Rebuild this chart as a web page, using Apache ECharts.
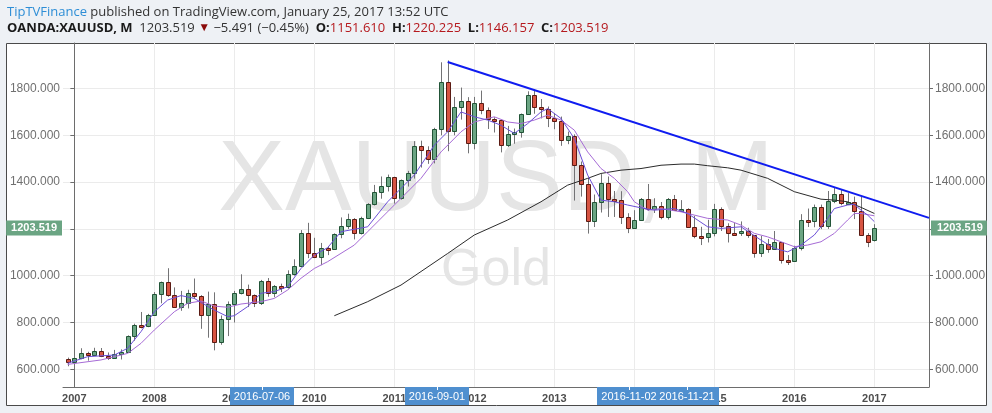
<!DOCTYPE html>
<html><head><meta charset="utf-8">
<script src="https://cdn.jsdelivr.net/npm/echarts@6/dist/echarts.min.js"></script>
<style>html,body{margin:0;padding:0;background:#eef1f5;}#c{width:992px;height:413px;}</style>
</head><body><div id="c"></div>
<script>
// ---------- DATA ----------
const months = [
 '2006-12',
 '2007-01','2007-02','2007-03','2007-04','2007-05','2007-06','2007-07','2007-08','2007-09','2007-10','2007-11','2007-12',
 '2008-01','2008-02','2008-03','2008-04','2008-05','2008-06','2008-07','2008-08','2008-09','2008-10','2008-11','2008-12',
 '2009-01','2009-02','2009-03','2009-04','2009-05','2009-06','2009-07','2009-08','2009-09','2009-10','2009-11','2009-12',
 '2010-01','2010-02','2010-03','2010-04','2010-05','2010-06','2010-07','2010-08','2010-09','2010-10','2010-11','2010-12',
 '2011-01','2011-02','2011-03','2011-04','2011-05','2011-06','2011-07','2011-08','2011-09','2011-10','2011-11','2011-12',
 '2012-01','2012-02','2012-03','2012-04','2012-05','2012-06','2012-07','2012-08','2012-09','2012-10','2012-11','2012-12',
 '2013-01','2013-02','2013-03','2013-04','2013-05','2013-06','2013-07','2013-08','2013-09','2013-10','2013-11','2013-12',
 '2014-01','2014-02','2014-03','2014-04','2014-05','2014-06','2014-07','2014-08','2014-09','2014-10','2014-11','2014-12',
 '2015-01','2015-02','2015-03','2015-04','2015-05','2015-06','2015-07','2015-08','2015-09','2015-10','2015-11','2015-12',
 '2016-01','2016-02','2016-03','2016-04','2016-05','2016-06','2016-07','2016-08','2016-09','2016-10','2016-11','2016-12',
 '2017-01'
];
const openP = [
 646,
 632,650,669,662,680,659,650,666,673,743,789,783,
 834,923,972,916,865,885,928,913,833,880,718,816,
 880,928,942,916,883,979,927,955,953,1008,1040,1181,
 1096,1081,1118,1113,1179,1212,1244,1181,1248,1308,1357,1385,
 1421,1332,1410,1439,1556,1536,1500,1628,1826,1620,1722,1746,
 1565,1737,1710,1669,1664,1560,1604,1614,1691,1772,1719,1713,
 1675,1663,1579,1596,1472,1393,1234,1313,1396,1327,1323,1250,
 1202,1240,1326,1284,1296,1250,1327,1282,1287,1210,1171,1167,
 1184,1283,1212,1183,1182,1190,1172,1095,1134,1115,1142,1065,
 1061,1118,1238,1233,1293,1214,1321,1351,1309,1316,1275,1173,
 1151.610
];
const highP = [
 650,
 660,690,675,692,691,672,683,685,745,795,845,837,
 930,975,1032,950,935,940,988,917,932,929,830,890,
 935,1006,962,920,982,990,960,966,1023,1070,1195,1226,
 1162,1140,1127,1181,1249,1265,1246,1252,1310,1388,1424,1432,
 1423,1411,1448,1575,1577,1553,1632,1912,1920,1764,1804,1763,
 1764,1791,1719,1677,1666,1640,1629,1693,1788,1796,1755,1723,
 1695,1680,1616,1604,1488,1418,1347,1434,1424,1362,1361,1267,
 1280,1332,1392,1331,1315,1332,1345,1323,1288,1256,1209,1239,
 1307,1292,1224,1225,1232,1205,1174,1170,1157,1191,1143,1088,
 1128,1263,1287,1304,1304,1362,1375,1366,1353,1338,1337,1182,
 1220.225
];
const lowP = [
 613,
 603,643,637,661,652,640,646,642,670,722,775,780,
 830,882,910,864,850,860,900,773,735,681,705,742,
 800,920,866,866,875,910,908,930,945,1000,1040,1075,
 1075,1045,1088,1113,1160,1200,1155,1176,1242,1300,1329,1360,
 1308,1325,1381,1415,1462,1478,1480,1600,1532,1600,1667,1523,
 1540,1690,1627,1612,1527,1550,1564,1590,1690,1692,1672,1635,
 1626,1555,1562,1321,1338,1180,1208,1270,1251,1251,1221,1182,
 1200,1238,1277,1268,1241,1240,1281,1273,1206,1160,1131,1142,
 1168,1191,1142,1170,1170,1162,1077,1080,1098,1112,1052,1046,
 1061,1108,1208,1207,1199,1200,1310,1301,1304,1242,1171,1122,
 1146.157
];
const closeP = [
 632,
 650,669,662,680,659,650,666,673,743,789,783,834,
 923,972,916,865,885,928,913,833,880,718,816,880,
 928,942,916,883,979,927,954,953,1008,1040,1181,1096,
 1081,1118,1113,1179,1212,1244,1181,1248,1308,1357,1385,1421,
 1332,1410,1439,1556,1536,1500,1628,1826,1620,1722,1746,1565,
 1737,1710,1669,1664,1560,1604,1614,1691,1772,1719,1713,1675,
 1663,1579,1596,1472,1393,1234,1313,1396,1327,1323,1250,1202,
 1240,1326,1284,1296,1250,1327,1282,1287,1210,1171,1167,1184,
 1283,1212,1183,1182,1190,1172,1095,1134,1115,1142,1065,1061,
 1118,1238,1233,1293,1214,1321,1351,1309,1316,1275,1173,1146,
 1203.519
];
// moving averages: [monthIndex (0 = Jan 2007), value]
const maFast = [[-1,626],[2,654],[6,661],[8,690],[10,761],[12,846],[14,896],[16,915],[18,903],[19,886],[21,853],[23,825],[24,829],[26,868],[28,925],[30,932],[32,953],[34,1031],[36,1088],[38,1120],[40,1188],[44,1209],[47,1316],[51,1430],[54,1558],[56,1615],[58,1700],[60,1679],[62,1665],[64,1643],[66,1608],[68,1650],[70,1700],[71,1714],[73,1672],[75,1586],[77,1430],[79,1323],[81,1316],[83,1302],[85,1290],[87,1280],[90,1287],[92,1266],[95,1209],[97,1202],[100,1209],[103,1152],[105,1117],[107,1102],[109,1131],[111,1174],[113,1245],[114,1287],[116,1302],[117,1305],[118,1280],[119,1259],[120,1231]];
const maSlow = [[-1,621],[4,640],[8,668],[10,711],[12,768],[15,846],[17,882],[19,892],[21,870],[23,865],[25,879],[28,889],[30,903],[32,939],[34,989],[36,1031],[38,1060],[42,1131],[44,1188],[48,1302],[52,1416],[55,1529],[58,1615],[60,1657],[63,1679],[65,1657],[67,1650],[69,1665],[71,1686],[73,1665],[75,1622],[77,1529],[79,1458],[81,1416],[83,1359],[84,1316],[86,1280],[88,1287],[91,1273],[93,1259],[95,1245],[98,1238],[100,1216],[102,1181],[104,1166],[106,1145],[108,1124],[110,1131],[112,1145],[114,1181],[116,1238],[117,1266],[118,1266],[120,1256]];
const maLong = [[39,829],[44,889],[49,960],[56,1095],[60,1174],[65,1238],[70,1316],[74,1387],[77,1416],[79,1437],[82,1451],[85,1458],[88,1472],[91,1477],[93,1477],[95,1470],[98,1461],[100,1451],[104,1416],[108,1359],[112,1327],[114,1323],[116,1316],[118,1292],[120,1266]];
const trendX = [56, 128.2];
const trendY = [1913, 1247];
const yearTicks = [0,12,24,36,48,60,72,84,96,108,120];
const priceTicks = [600,800,1000,1200,1400,1600,1800];
const priceLabels = [600,800,1000,1400,1600,1800];
const dateTags = ['2016-07-06','2016-09-01','2016-11-02','2016-11-21'];
const dateTagAt = [28.15, 54.4, 83.2, 91.9];

// ---------- CHART ----------
const X_MIN = -1.7, X_MAX = 128.2, Y_MIN = 524.4, Y_MAX = 1994.4;
function monthIndex(m){const p=m.split('-').map(Number);return (p[0]-2007)*12+(p[1]-1);}
const candles = months.map((m,i)=>[monthIndex(m), openP[i], closeP[i], lowP[i], highP[i]]);
const lastPrice = closeP[closeP.length-1];
const FONT = 'Liberation Sans, Arial, sans-serif';
const UP='#6ba583', DN='#d75442', UPB='#225437', DNB='#5b1a13', WICK='#737375';
const axisCol = '#6d6d6d';

const chart = echarts.init(document.getElementById('c'));
function yAx(pos, extra){
  return Object.assign({type:'value', position:pos, min:Y_MIN, max:Y_MAX, scale:true}, extra);
}
chart.setOption({
  animation:false,
  backgroundColor:'#eef1f5',
  grid:{left:63,right:63,top:43,bottom:26},
  xAxis:{type:'value',min:X_MIN,max:X_MAX,
    axisLine:{show:true,onZero:false,lineStyle:{color:axisCol}},
    axisTick:{show:false,customValues:yearTicks},
    axisLabel:{customValues:yearTicks,formatter:v=>String(2007+Math.round(v/12)),color:'#4d4d4d',fontSize:11,fontWeight:'bold',fontFamily:FONT,margin:6},
    splitLine:{show:true,lineStyle:{color:'#ebebeb'}}},
  yAxis:[
    yAx('left',{axisLine:{show:true,lineStyle:{color:axisCol}},
      axisTick:{show:true,length:4,customValues:priceTicks,lineStyle:{color:axisCol}},
      axisLabel:{customValues:priceLabels,formatter:v=>v.toFixed(3),color:'#707070',fontSize:12,fontFamily:FONT,margin:3},
      splitLine:{show:true,lineStyle:{color:'#ebebeb'}}}),
    yAx('right',{axisLine:{show:true,lineStyle:{color:axisCol}},
      axisTick:{show:true,length:4,customValues:priceTicks,lineStyle:{color:axisCol}},
      axisLabel:{customValues:priceLabels,formatter:v=>v.toFixed(3),color:'#707070',fontSize:12,fontFamily:FONT,margin:6},
      splitLine:{show:false}}),
    yAx('left',{axisLine:{show:false},axisTick:{show:false},splitLine:{show:false},
      axisLabel:{customValues:[lastPrice],formatter:v=>v.toFixed(3),color:'#fff',backgroundColor:UP,padding:[2,5,2,5],fontSize:11,fontWeight:'bold',fontFamily:FONT,margin:1}}),
    yAx('right',{axisLine:{show:false},axisTick:{show:false},splitLine:{show:false},
      axisLabel:{customValues:[lastPrice],formatter:v=>v.toFixed(3),color:'#fff',backgroundColor:UP,padding:[2,4,2,6],fontSize:11,fontWeight:'bold',fontFamily:FONT,margin:2}})
  ],
  series:[
    {type:'custom',name:'XAUUSD',z:2,clip:true,data:candles,encode:{x:0,y:[1,2,3,4]},
     renderItem:function(params,api){
       const x=api.value(0),o=api.value(1),c=api.value(2),l=api.value(3),h=api.value(4);
       const pO=api.coord([x,o]),pC=api.coord([x,c]),pL=api.coord([x,l]),pH=api.coord([x,h]);
       const cx=Math.round(pO[0])+0.5;
       const up=c>=o;
       let top=Math.round(Math.min(pO[1],pC[1]))+0.5, bot=Math.round(Math.max(pO[1],pC[1]))+0.5;
       if(bot-top<2){bot=top+2;}
       return {type:'group',children:[
         {type:'line',shape:{x1:cx,y1:pH[1],x2:cx,y2:pL[1]},style:{stroke:WICK,lineWidth:1}},
         {type:'rect',shape:{x:cx-2,y:top,width:4,height:bot-top},style:{fill:up?UP:DN,stroke:up?UPB:DNB,lineWidth:1}}
       ]};
     }},
    {type:'line',name:'MA long',data:maLong,showSymbol:false,z:3,lineStyle:{color:'#2b2b2b',width:1},silent:true},
    {type:'line',name:'MA slow',data:maSlow,showSymbol:false,z:3,lineStyle:{color:'#a66bd6',width:1},silent:true},
    {type:'line',name:'MA fast',data:maFast,showSymbol:false,z:3,lineStyle:{color:'#6c4fd8',width:1},silent:true},
    {type:'line',name:'Trend',data:[[trendX[0],trendY[0]],[trendX[1],trendY[1]]],showSymbol:false,z:4,lineStyle:{color:'#0f1cf0',width:2},silent:true}
  ]
});

// ---------- overlays ----------
const o = lastPrice;
const g = [];
g.push({type:'rect',z:-10,shape:{x:6.5,y:43.5,width:980,height:362},style:{fill:'#ffffff',stroke:'#4a4a4a',lineWidth:1},silent:true});
g.push({type:'text',z:1,x:496,y:182,style:{text:'XAUUSD, M',fill:'#e5e5e5',font:'100px '+FONT,align:'center',verticalAlign:'middle'},silent:true});
g.push({type:'text',z:1,x:496,y:271,style:{text:'Gold',fill:'#e5e5e5',font:'52px '+FONT,align:'center',verticalAlign:'middle'},silent:true});
const HF = '"Open Sans", sans-serif';
g.push({type:'text',z:10,x:7,y:12,style:{text:'{a|TipTVFinance}{b| published on TradingView.com, January 25, 2017 13:52 UTC}',verticalAlign:'middle',
  rich:{a:{fill:'#2e8ed6',fontSize:13,fontFamily:HF},b:{fill:'#333333',fontSize:13,fontFamily:HF}}}});
const n = openP.length-1;
g.push({type:'text',z:10,x:7,y:28,style:{
  text:'{k|OANDA:XAUUSD, M}{v|  '+lastPrice.toFixed(3)+' }{d|▼}{v| −5.491 (−0.45%)  }{k|O:}{r|'+openP[n].toFixed(3)+'}{k|  H:}{r|'+highP[n].toFixed(3)+'}{k|  L:}{r|'+lowP[n].toFixed(3)+'}{k|  C:}{r|'+closeP[n].toFixed(3)+'}',
  verticalAlign:'middle',
  rich:{k:{fill:'#1a1a1a',fontSize:13,fontWeight:'bold',fontFamily:HF},v:{fill:'#333333',fontSize:13,fontFamily:HF},d:{fill:'#8b0a0a',fontSize:12,fontFamily:HF},r:{fill:'#b5191e',fontSize:13,fontFamily:HF}}}});
dateTags.forEach((t,i)=>{
  const cx = chart.convertToPixel({xAxisIndex:0}, dateTagAt[i]);
  g.push({type:'rect',z:20,shape:{x:cx-32,y:387,width:64,height:18},style:{fill:'#4f8fcf'},silent:true});
  g.push({type:'line',z:21,shape:{x1:Math.round(cx)+0.5,y1:387,x2:Math.round(cx)+0.5,y2:390},style:{stroke:'#ffffff',lineWidth:1},silent:true});
  g.push({type:'text',z:21,x:cx,y:397,style:{text:t,fill:'#ffffff',font:'11px '+FONT,align:'center',verticalAlign:'middle'},silent:true});
});
chart.setOption({graphic:g});
</script>
</body></html>
